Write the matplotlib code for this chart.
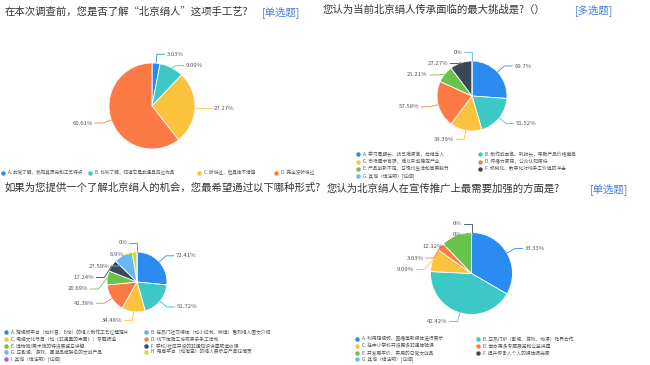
import matplotlib
matplotlib.use("Agg")
import matplotlib.pyplot as plt
import numpy as np

plt.rcParams['font.family'] = ['Noto Sans CJK SC', 'DejaVu Sans']

W, H = 650, 365

# ---------------- data ----------------
q1_title = "在本次调查前，您是否了解“北京绢人”这项手工艺?"
q1_tag = "[单选题]"
q1_labels = ["A. 非常了解，熟知其历史和工艺特点", "B. 比较了解，知道它是非遗且见过作品",
             "C. 听说过，但具体不清楚", "D. 完全没听说过"]
q1_values = [3.03, 9.09, 27.27, 60.61]

q2_title = "您认为当前北京绢人传承面临的最大挑战是?（）"
q2_tag = "[多选题]"
q2_labels = ["A. 学习周期长、技艺难度高，后继乏人", "B. 制作成本高、耗时长，导致产品价格偏高",
             "C. 市场需求有限，难以形成稳定产业", "D. 传播力度弱，公众认知度低",
             "E. 产品创新不足，与现代生活和审美脱节", "F. 机械化、数字化对纯手工价值的冲击",
             "G. 其他（请注明）[详细]"]
q2_values = [69.7, 51.52, 39.39, 57.58, 21.21, 27.27, 0]

q3_title = "如果为您提供一个了解北京绢人的机会，您最希望通过以下哪种形式?"
q3_labels = ["A. 短视频平台（如抖音、B站）的绢人制作工艺过程短片",
             "B. 在热门社交媒体（如小红书、微博）看到绢人图文介绍",
             "C. 电视文化节目（如《非遗里的中国》）专题报道",
             "D. 线下体验工坊或亲子手工活动",
             "E. 博物馆/美术馆的特设展览与讲解",
             "F. 学校/社区开设的非遗知识讲座或选修课",
             "G. 与影视、游戏、国潮品牌联名的文创产品",
             "H. 电商平台（如淘宝）的绢人展示与产品详情页",
             "I. 其他（请注明）[详细]"]
q3_values = [72.41, 51.72, 34.48, 41.38, 20.69, 17.24, 27.59, 6.9, 0]

q4_title = "您认为北京绢人在宣传推广上最需要加强的方面是?"
q4_tag = "[单选题]"
q4_labels = ["A. 利用短视频、直播等新媒体进行展示", "B. 与热门IP（影视、游戏、动漫）跨界合作",
             "C. 在中小学校开设更多非遗体验课", "D. 举办更多专题展览和公益讲座",
             "E. 开发更平价、实用的日常文创品", "F. 提升传承人个人的媒体曝光度",
             "G. 其他（请注明）[详细]"]
q4_values = [33.33, 42.42, 9.09, 3.03, 12.12, 0, 0]

palette = ['#2a8cf0', '#3cc8c4', '#fbc23e', '#fb7a46', '#69c34a',
           '#3a4858', '#6ab8f3', '#c4dc3c', '#a560d8']

# ---------------- figure ----------------
fig = plt.figure(figsize=(W / 100, H / 100), dpi=100)
ax = fig.add_axes([0, 0, 1, 1])

TXT = '#555555'


def fmt(v):
    s = ('%.2f' % v).rstrip('0').rstrip('.')
    return s + '%'


def draw_pie(values, cx, cy, r, L1=9, L2=8, minsep=11.5):
    cols = palette[:len(values)]
    wedges, _ = ax.pie(values, colors=cols, startangle=90, counterclock=False,
                       center=(cx, H - cy), radius=r, normalize=True,
                       wedgeprops=dict(edgecolor='white', linewidth=0.6))
    items = []
    for i, (w, v, c) in enumerate(zip(wedges, values, cols)):
        a = np.deg2rad((w.theta1 + w.theta2) / 2)
        ca, sa = np.cos(a), np.sin(a)
        x0, y0 = cx + r * ca, cy - r * sa
        x1, y1 = cx + (r + L1) * ca, cy - (r + L1) * sa
        side = 1 if ca > 1e-6 else -1
        items.append(dict(i=i, x0=x0, y0=y0, x1=x1, y=y1, side=side, c=c, v=v))
    for side in (1, -1):
        grp = [it for it in items if it['side'] == side]
        grp.sort(key=lambda it: (it['y'], -it['i'] * side))
        for k in range(1, len(grp)):
            if grp[k]['y'] - grp[k - 1]['y'] < minsep:
                grp[k]['y'] = grp[k - 1]['y'] + minsep
    for it in items:
        s = it['side']
        x2 = it['x1'] + s * L2
        ax.plot([it['x0'], it['x1'], x2],
                [H - it['y0'], H - it['y'], H - it['y']],
                color=it['c'], lw=0.6, solid_capstyle='round')
        ax.text(x2 + s * 2, H - it['y'], fmt(it['v']), fontsize=4.3, color=TXT,
                ha='left' if s > 0 else 'right', va='center')


def draw_title(x, y, text, tag=None, tagx=None):
    ax.text(x, H - y, text, fontsize=7.5, color='#333333', ha='left', va='center')
    if tag:
        ax.text(tagx, H - y, tag, fontsize=7.5, color='#4a80d0', ha='left', va='center')


def draw_legend(labels, positions, fs=3.4):
    for k, (lab, (x, y)) in enumerate(zip(labels, positions)):
        ax.plot([x], [H - y], 'o', ms=3.2, color=palette[k], mec='none')
        ax.text(x + 5, H - y, lab, fontsize=fs, color=TXT, ha='left', va='center')


# Chart 1
draw_title(5, 12, q1_title, q1_tag, 262)
draw_pie(q1_values, 152, 106, 43)
draw_legend(q1_labels, [(3, 173), (90, 173), (199, 173), (276, 173)], fs=3.3)

# Chart 2
draw_title(323, 10, q2_title, q2_tag, 575)
draw_pie(q2_values, 472, 96, 35)
cols2 = [358, 480]
rows2 = [154, 162, 169, 176]
draw_legend(q2_labels, [(cols2[k % 2], rows2[k // 2]) for k in range(len(q2_labels))])

# Chart 3
draw_title(5, 188, q3_title)
draw_pie(q3_values, 137, 282, 30)
cols3 = [6, 146]
rows3 = [332, 339, 346, 352, 359]
draw_legend(q3_labels, [(cols3[k % 2], rows3[k // 2]) for k in range(len(q3_labels))])

# Chart 4
draw_title(327, 189, q4_title, q4_tag, 590)
draw_pie(q4_values, 471.5, 273.5, 41)
cols4 = [357, 478]
rows4 = [339, 346, 353, 359]
draw_legend(q4_labels, [(cols4[k % 2], rows4[k // 2]) for k in range(len(q4_labels))])

ax.set_xlim(0, W)
ax.set_ylim(0, H)
ax.set_aspect('auto')
ax.axis('off')

fig.savefig('out.png', dpi=100, facecolor='white')
